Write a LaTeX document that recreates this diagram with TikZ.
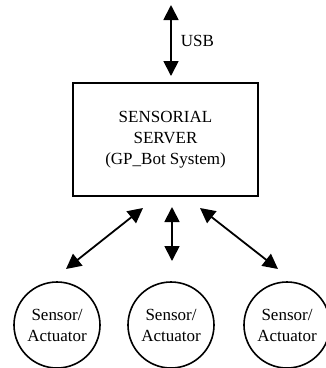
\documentclass[tikz,border=0pt]{standalone}
\usepackage{fontspec}
\setmainfont{Liberation Serif}
\usetikzlibrary{arrows.meta}
\begin{document}
\begin{tikzpicture}[x=1pt,y=-1pt,
  lbl/.style={font=\fontsize{17}{21}\selectfont, align=center, inner sep=0pt},
  serverbox/.style={draw, line width=1.8pt, minimum width=185pt, minimum height=113pt, lbl},
  sacirc/.style={draw, circle, line width=1.6pt, minimum size=86pt, lbl},
  link/.style={line width=1.8pt, {Triangle[width=15pt,length=15pt]}-{Triangle[width=15pt,length=15pt]}}
]
\useasboundingbox (0,0) rectangle (326,368);
\node[serverbox] (srv) at (165.5,139.5) {SENSORIAL\\SERVER\\(GP\_Bot System)};
\coordinate (usbtop) at (171,5);
\coordinate (usbbot) at (171,76);
\draw[link] (usbtop) -- (usbbot) node[midway, right=9pt, lbl] (usb) {USB};
\node[sacirc] (s1) at (57,325) {Sensor/\\Actuator};
\node[sacirc] (s2) at (171,325) {Sensor/\\Actuator};
\node[sacirc] (s3) at (287,325) {Sensor/\\Actuator};
\coordinate (a1) at (143,208);
\coordinate (b1) at (66,269);
\coordinate (a2) at (172,207);
\coordinate (b2) at (172,261);
\coordinate (a3) at (200,208);
\coordinate (b3) at (278,269);
\draw[link] (a1) -- (b1);
\draw[link] (a2) -- (b2);
\draw[link] (a3) -- (b3);
\end{tikzpicture}
\end{document}
